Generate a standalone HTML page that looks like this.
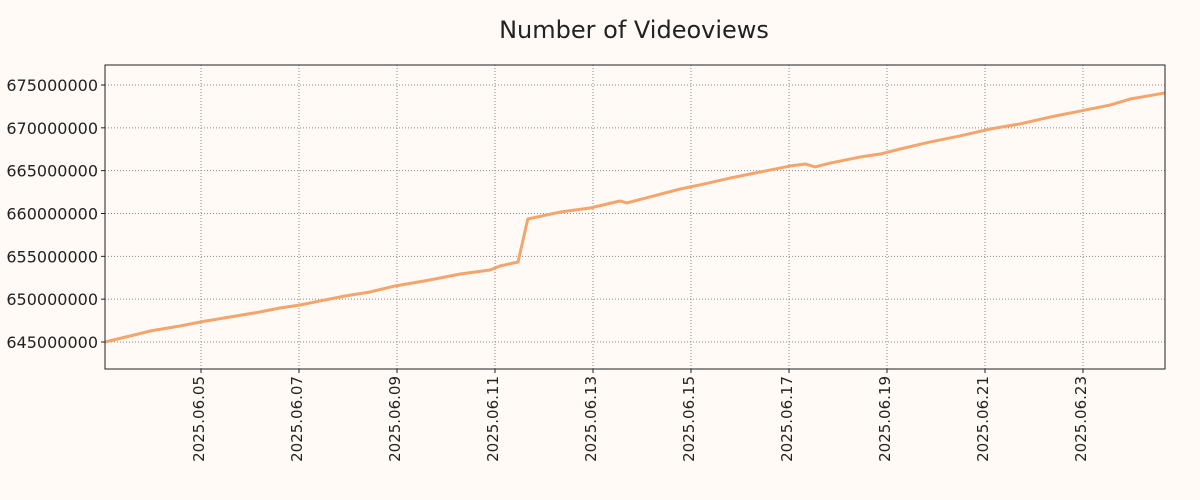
<!DOCTYPE html>
<html><head><meta charset="utf-8"><style>
body{margin:0;background:#fffaf5;}
svg{display:block;font-family:"DejaVu Sans","Liberation Sans",sans-serif;}
</style></head><body>
<svg id="chart" width="1200" height="500">
<rect width="1200" height="500" fill="#fffaf5"/>
<text x="634" y="38" text-anchor="middle" font-size="24" fill="#222">Number of Videoviews</text>
<g id="grid"></g><g id="axes"></g><g id="series"></g>
<rect x="105" y="65" width="1060" height="304" fill="none" stroke="#222" stroke-width="1"/>
</svg>
<script>
const days=[3.04,3.55,3.96,4.57,4.98,5.59,6.20,6.61,7.02,7.43,7.94,8.45,8.96,9.67,10.29,10.90,11.10,11.47,11.67,12.33,12.94,13.55,13.69,14.16,14.78,15.18,15.80,16.41,17.02,17.33,17.53,17.84,18.45,18.86,19.27,19.88,20.49,21.10,21.71,22.33,22.94,23.55,23.96,24.67];
const views=[645.0,645.7,646.28,646.87,647.33,647.92,648.5,648.97,649.32,649.79,650.37,650.84,651.54,652.24,652.94,653.4,653.87,654.34,659.36,660.17,660.64,661.46,661.23,661.93,662.86,663.33,664.14,664.84,665.54,665.78,665.43,665.89,666.59,666.94,667.53,668.35,669.05,669.86,670.45,671.26,671.96,672.66,673.36,674.07].map(v=>v*1e6);
const yTicks=[645000000,650000000,655000000,660000000,665000000,670000000,675000000];
const xTickDays=[5,7,9,11,13,15,17,19,21,23];
const xTickLabels=["2025.06.05","2025.06.07","2025.06.09","2025.06.11","2025.06.13","2025.06.15","2025.06.17","2025.06.19","2025.06.21","2025.06.23"];
const NS="http://www.w3.org/2000/svg";
const L=105,R=1165,T=65,B=369;
const x=d=>201+(d-5)*49;
const y=v=>342-(v-645e6)/1e6*8.567;
function mk(tag,attrs,parent){const e=document.createElementNS(NS,tag);for(const k in attrs)e.setAttribute(k,attrs[k]);document.getElementById(parent).appendChild(e);return e;}
yTicks.forEach(v=>{
  const g=mk('line',{x1:L,x2:R,y1:y(v),y2:y(v),stroke:'#888','stroke-width':1,'stroke-dasharray':'1,2'},'grid');
  
  
  const tk=mk('line',{x1:L-4,x2:L,y1:y(v),y2:y(v),stroke:'#222'},'axes');
  
  
  const t=mk('text',{x:L-7,y:y(v)+6,'text-anchor':'end','font-size':16,fill:'#222'},'axes');
  t.textContent=v;
  
  
});
xTickDays.forEach((d,i)=>{
  const g=mk('line',{x1:x(d),x2:x(d),y1:T,y2:B,stroke:'#888','stroke-width':1,'stroke-dasharray':'1,2'},'grid');
  
  
  const tk=mk('line',{x1:x(d),x2:x(d),y1:B,y2:B+4,stroke:'#222'},'axes');
  
  
  const t=mk('text',{x:0,y:0,'text-anchor':'end','font-size':15,fill:'#222',transform:`translate(${x(d)+3},${B+7}) rotate(-90)`},'axes');
  t.textContent=xTickLabels[i];
  
  
});
const p=mk('polyline',{points:days.map((d,i)=>x(d)+','+y(views[i])).join(' '),fill:'none',stroke:'#f5a56b','stroke-width':3,'stroke-linejoin':'round'},'series');


</script>
</body></html>
